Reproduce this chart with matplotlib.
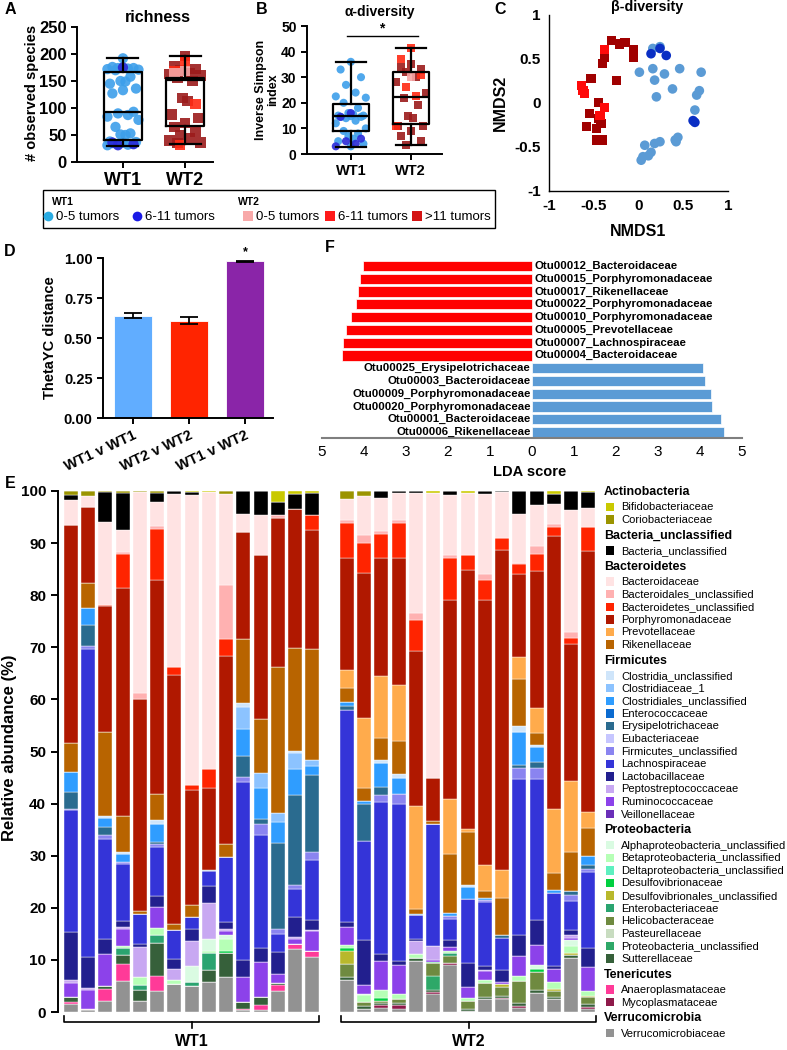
import numpy as np
import matplotlib
matplotlib.use("Agg")
import matplotlib.pyplot as plt
from matplotlib.patches import Rectangle

plt.rcParams['font.family'] = ['Liberation Sans', 'DejaVu Sans']
plt.rcParams['axes.linewidth'] = 1.4

# ---------------- data ----------------
groups = ['WT1', 'WT2']

# A: richness (# observed species)
rich_wt1_05 = [192, 176, 174, 174, 173, 172, 171, 170, 158, 150, 149, 145, 136, 133, 127, 93, 90, 87, 84, 78,
               65, 53, 51, 50, 38, 37, 36, 35, 34, 33, 32, 31]
rich_wt1_611 = [175, 36, 33, 31]
rich_wt2_05 = [168, 165]
rich_wt2_611 = [185, 168, 107, 32]
rich_wt2_gt11 = [196, 178, 172, 170, 165, 163, 160, 155, 150, 118, 113, 88, 82, 72, 65, 55, 50, 45, 40, 36, 35]
rich_med = [92, 152]
rich_q1 = [40, 66]
rich_q3 = [166, 155]
rich_min = [30, 33]
rich_max = [193, 196]

# B: inverse Simpson
simp_wt1_05 = [36, 33, 30, 27, 24, 22.5, 22, 20, 18, 16, 15.5, 15, 15, 14.8, 14.5, 14.5, 14, 13, 12, 10, 9, 8, 7,
               6, 5, 4, 3]
simp_wt1_611 = [16, 14.5, 6, 5, 4, 3]
simp_wt2_05 = [30]
simp_wt2_611 = [41.5, 37, 31, 26, 22.5, 11]
simp_wt2_gt11 = [35, 34, 33, 32, 30, 28, 24, 22, 19, 15, 14, 11, 11, 9, 7, 5, 3.5]
simp_med = [14.9, 22.4]
simp_q1 = [8.8, 11.8]
simp_q3 = [19.6, 31.9]
simp_min = [2.7, 3.6]
simp_max = [36, 41.5]

# C: NMDS
nmds_wt2_gt11_x = [-0.30, -0.21, -0.15, -0.06, -0.06, -0.38, -0.38, -0.40, -0.53, -0.25, -0.45, -0.55, -0.45,
                   -0.58, -0.47, -0.42, -0.47, -0.40]
nmds_wt2_gt11_y = [0.71, 0.67, 0.69, 0.61, 0.52, 0.60, 0.52, 0.45, 0.28, 0.26, 0.01, -0.12, -0.18, -0.27, -0.29,
                   -0.23, -0.42, -0.42]
nmds_wt2_611_x = [-0.38, -0.64, -0.62, -0.60, -0.38, -0.43]
nmds_wt2_611_y = [0.61, 0.20, 0.14, 0.11, -0.05, -0.14]
nmds_wt1_05_x = [0.16, 0.24, 0.01, 0.16, 0.18, 0.29, 0.46, 0.70, 0.38, 0.20, 0.68, 0.65, 0.63, 0.44, 0.41, 0.42,
                 0.24, 0.18, 0.07, 0.14, 0.11, 0.05, 0.03]
nmds_wt1_05_y = [0.62, 0.64, 0.35, 0.39, 0.26, 0.33, 0.39, 0.35, 0.16, 0.07, 0.14, 0.09, -0.08, -0.39, -0.42, -0.44,
                 -0.44, -0.46, -0.48, -0.56, -0.60, -0.61, -0.65]
nmds_wt1_611_x = [0.14, 0.24, 0.31, 0.61, 0.63]
nmds_wt1_611_y = [0.56, 0.62, 0.54, -0.20, -0.22]

# D: ThetaYC distance
theta_labels = ['WT1 v WT1', 'WT2 v WT2', 'WT1 v WT2']
theta_mean = [0.64, 0.608, 0.979]
theta_err = [0.018, 0.021, 0.004]

# F: LDA
lda_wt2_otus = ['Otu00012_Bacteroidaceae', 'Otu00015_Porphyromonadaceae', 'Otu00017_Rikenellaceae',
                'Otu00022_Porphyromonadaceae', 'Otu00010_Porphyromonadaceae', 'Otu00005_Prevotellaceae',
                'Otu00007_Lachnospiraceae', 'Otu00004_Bacteroidaceae']
lda_wt2 = [4.02, 4.09, 4.14, 4.20, 4.32, 4.44, 4.49, 4.52]
lda_wt1_otus = ['Otu00025_Erysipelotrichaceae', 'Otu00003_Bacteroidaceae', 'Otu00009_Porphyromonadaceae',
                'Otu00020_Porphyromonadaceae', 'Otu00001_Bacteroidaceae', 'Otu00006_Rikenellaceae']
lda_wt1 = [4.07, 4.11, 4.27, 4.29, 4.50, 4.58]
lda_ticks = [-5, -4, -3, -2, -1, 0, 1, 2, 3, 4, 5]
lda_ticklabels = ['5', '4', '3', '2', '1', '0', '1', '2', '3', '4', '5']

# E: relative abundance per sample (15 WT1 then 15 WT2)
bifidobacteriaceae = [0, 0, 0, 0, 0, 0, 0, 0.2, 0.2, 0, 0, 0, 2.2, 0.6, 0.4,
                      0, 0, 0, 0, 0, 0.3, 0, 0.3, 0, 0, 0, 0, 0.6, 0, 0.2]
coriobacteriaceae = [0.8, 1.0, 0.2, 0.3, 0.2, 0.3, 0, 0, 0, 0.6, 0, 0, 0, 0, 0,
                     1.5, 1.0, 0, 0, 0, 0, 0, 0, 0, 0, 0, 0, 0, 0, 0]
bacteria_unclassified = [1.0, 0, 5.8, 7.2, 0, 1.9, 0.6, 0.5, 0, 0, 4.5, 4.7, 2.5, 2.9, 4.3,
                         0, 0, 1.4, 0.4, 0.3, 0, 0.8, 0, 0.5, 0.2, 4.4, 2.6, 1.8, 3.6, 3.0]
bacteroidaceae = [4.8, 2.1, 15.8, 4.2, 38.6, 4.5, 33.1, 55.8, 53.2, 17.4, 3.4, 7.5, 0, 0, 0,
                  4.1, 7.5, 6.2, 5.2, 23.2, 54.7, 11.4, 12.0, 15.4, 8.8, 9.4, 8.0, 4.0, 23.5, 3.8]
bacteroidales_unc = [0, 0, 0, 0.3, 1.1, 0.5, 0, 0, 0, 10.4, 0, 0, 0.5, 0, 0,
                     0.5, 1.5, 0.6, 0.5, 1.2, 0, 0.7, 0, 1.2, 0, 0.3, 1.4, 0.5, 1.2, 0]
bacteroidetes_unc = [0, 0, 0.2, 6.7, 0, 9.8, 1.7, 0.9, 3.6, 3.2, 0, 0, 0, 0, 2.8,
                     6.7, 5.7, 4.7, 6.7, 6.1, 0, 8.0, 2.8, 3.9, 2.4, 1.8, 3.4, 1.7, 1.1, 4.5]
porphyromonadaceae = [41.8, 14.6, 24.3, 43.6, 40.8, 41.2, 47.8, 22.0, 15.7, 36.1, 20.6, 31.6, 28.5, 26.6, 22.8,
                      21.5, 27.9, 22.6, 24.4, 29.7, 8.3, 38.3, 49.7, 50.7, 61.3, 16.0, 26.3, 52.4, 26.3, 50.1]
prevotellaceae = [0, 0, 0, 0, 0, 0, 0, 0, 0, 0, 0, 0, 0, 0, 0,
                  3.6, 13.5, 12.0, 10.7, 19.7, 0, 10.4, 0.7, 5.1, 5.4, 4.1, 4.7, 12.4, 13.6, 3.0]
rikenellaceae = [5.5, 4.7, 16.1, 7.0, 0.4, 5.0, 1.1, 2.4, 0, 2.6, 12.2, 10.3, 28.2, 19.9, 21.3,
                 2.6, 2.4, 4.2, 6.5, 0.9, 0.6, 11.4, 10.2, 1.4, 7.2, 9.2, 2.4, 3.1, 7.5, 5.5]
clostridia_unc = [0, 0, 0.4, 0.3, 0, 0.7, 0, 0, 0, 0, 0.8, 0, 0, 0.2, 0,
                  0, 0, 0.6, 0.6, 0, 0, 0, 0.3, 0, 0, 1.1, 0.3, 0, 0, 0]
clostridiaceae_1 = [0, 0, 0, 0, 0, 0, 0, 0, 0, 0, 4.1, 3.0, 1.6, 3.1, 1.2,
                    0, 0, 0, 0, 0, 0, 0, 0, 0, 0, 0, 0, 0, 0, 0]
clostridiales_unc = [3.9, 3.3, 1.7, 1.6, 0, 3.4, 0, 0, 0, 0, 5.3, 5.9, 4.1, 5.1, 1.8,
                     0.8, 0.5, 4.5, 3.1, 0.3, 0, 0.6, 2.4, 0.3, 0, 6.2, 2.9, 0.7, 0, 1.7]
erysipelotrichaceae = [3.2, 4.1, 1.6, 0, 0, 0.4, 0, 0, 0.2, 0, 3.9, 1.0, 16.4, 17.3, 14.7,
                       0.8, 7.2, 1.6, 0, 0, 0, 0, 0, 0, 0.5, 0.7, 1.2, 0, 0.8, 0.7]
firmicutes_unc = [0.3, 0.5, 0.6, 0.3, 0, 0.6, 0, 0, 0, 0, 1.1, 2.1, 1.0, 0.6, 1.5,
                  0, 0, 1.3, 1.9, 0, 0, 0.5, 0, 0.4, 0, 2.0, 2.0, 0, 1.0, 0.6]
lachnospiraceae = [23.3, 59.1, 19.2, 11.1, 5.8, 9.5, 5.5, 2.2, 3.0, 12.5, 34.1, 21.7, 3.5, 5.5, 11.5,
                   40.6, 18.9, 29.2, 30.2, 4.5, 23.5, 4.0, 12.2, 12.3, 6.2, 30.0, 27.2, 14.0, 5.6, 14.6]
lactobacillaceae = [9.2, 6.0, 2.9, 1.1, 0.6, 2.0, 1.9, 2.4, 3.2, 1.3, 3.2, 2.6, 4.3, 3.8, 1.9,
                    0.9, 8.7, 1.4, 0.8, 0.5, 0, 1.4, 4.6, 0.7, 2.2, 4.1, 4.8, 0.5, 1.0, 3.7]
peptostreptococcaceae = [0.6, 0.4, 0, 0.3, 5.7, 0, 2.1, 4.7, 6.8, 0.4, 0, 0, 0, 0.3, 0.3,
                         0, 0, 0, 0, 2.4, 2.6, 0, 0, 0.2, 0, 0, 0, 0, 0.6, 0]
ruminococcaceae = [2.8, 3.6, 6.3, 3.4, 0, 4.0, 0, 0, 0, 0.8, 4.9, 6.7, 1.6, 1.0, 3.7,
                   3.6, 1.7, 5.5, 5.5, 0, 0.4, 0.7, 2.2, 1.7, 0.5, 3.7, 3.7, 2.5, 0.4, 4.6]
alphaproteo_unc = [0, 0, 0, 0, 0, 0, 0, 3.1, 2.3, 0.6, 0, 0, 0, 0, 0,
                   0, 0.3, 0, 0, 0, 0, 0, 0, 0, 0, 0, 0.8, 0, 1.2, 0]
betaproteo_unc = [0, 0, 0, 0.4, 1.6, 1.5, 0.8, 0, 0.5, 2.3, 0, 0, 0, 0, 0,
                  0.5, 1.3, 1.5, 1.1, 0.8, 0, 0.5, 0.4, 0.6, 0, 1.1, 0, 1.3, 1.3, 1.0]
desulfovibrionaceae = [0, 0, 0, 0, 0, 0, 0, 0, 0, 0.5, 0, 0, 0, 0, 0,
                       0.5, 0, 0.5, 0, 0, 0.2, 0, 0, 0, 0, 0, 0.6, 0, 0, 0]
desulfovibrionales_unc = [0, 0, 0, 0, 0, 0, 0, 0, 0, 0, 0, 0, 0, 0, 0,
                          2.5, 0, 0, 0, 0, 0, 0, 0, 0, 0.5, 0, 0, 0.5, 0.4, 0.2]
enterobacteriaceae = [0, 0, 0, 1.3, 1.0, 1.5, 0, 0.9, 3.3, 0, 0, 0, 0, 0, 0,
                      0, 0, 0, 0, 0, 0, 0.6, 0, 0, 0, 0, 0, 0, 0, 0]
helicobacteraceae = [0, 0, 0, 0, 0, 0, 0, 0, 0, 0, 0, 0, 0, 0, 0,
                     2.5, 0.8, 0.5, 0.6, 0, 2.4, 1.3, 1.6, 2.8, 1.8, 4.1, 3.5, 1.1, 0, 1.3]
proteobacteria_unc = [0, 0, 0, 0, 0, 0, 0, 0, 0, 0, 0, 0, 0, 0, 0,
                      0, 0, 0, 0, 0, 2.7, 0, 0, 0, 0, 0, 0, 0, 0, 0]
sutterellaceae = [0.8, 0, 0.4, 1.6, 2.0, 6.2, 0, 0, 2.2, 4.6, 1.3, 1.6, 0.5, 0, 0,
                  0.6, 0.5, 0.4, 0.5, 0.6, 0.5, 0, 0.4, 0.4, 0.3, 0.6, 0.6, 0.5, 0.5, 0.6]
anaeroplasmataceae = [0.4, 0.3, 2.4, 3.3, 0, 3.0, 0, 0, 0, 0, 0.3, 0.9, 1.1, 1.1, 1.2,
                      0, 0, 0, 0, 0, 0, 0, 0, 0, 0, 0, 0, 0, 0, 0]
mycoplasmataceae = [0, 0, 0, 0, 0, 0, 0, 0, 0, 0, 0, 0, 0, 0, 0,
                    0, 0, 0.5, 0.7, 0, 0.3, 0.3, 0, 0, 0.3, 0.4, 0, 0, 0, 0.3]
verrucomicrobiaceae = [1.6, 0.3, 2.1, 6.0, 2.2, 4.0, 5.4, 4.9, 5.8, 6.7, 0.3, 0.4, 4.0, 12.0, 10.6,
                       6.2, 0.6, 0.8, 0.6, 9.8, 3.5, 9.1, 0.2, 2.4, 2.4, 0.8, 3.6, 2.4, 10.4, 0.6]

# legend (phylum, [(family, colour, values or None)])
taxa_groups = [
    ('Actinobacteria', [('Bifidobacteriaceae', '#c9c900', bifidobacteriaceae),
                        ('Coriobacteriaceae', '#9b9400', coriobacteriaceae)]),
    ('Bacteria_unclassified', [('Bacteria_unclassified', '#000000', bacteria_unclassified)]),
    ('Bacteroidetes', [('Bacteroidaceae', '#ffe3e3', bacteroidaceae),
                       ('Bacteroidales_unclassified', '#ffb1b1', bacteroidales_unc),
                       ('Bacteroidetes_unclassified', '#ff2400', bacteroidetes_unc),
                       ('Porphyromonadaceae', '#b01800', porphyromonadaceae),
                       ('Prevotellaceae', '#ffab4c', prevotellaceae),
                       ('Rikenellaceae', '#b86400', rikenellaceae)]),
    ('Firmicutes', [('Clostridia_unclassified', '#cfe5fa', clostridia_unc),
                    ('Clostridiaceae_1', '#8cc3ff', clostridiaceae_1),
                    ('Clostridiales_unclassified', '#2f9dff', clostridiales_unc),
                    ('Enterococcaceae', '#0b6bd0', None),
                    ('Erysipelotrichaceae', '#2a6b8f', erysipelotrichaceae),
                    ('Eubacteriaceae', '#c6c6ff', None),
                    ('Firmicutes_unclassified', '#8a84f0', firmicutes_unc),
                    ('Lachnospiraceae', '#3434d8', lachnospiraceae),
                    ('Lactobacillaceae', '#221f8e', lactobacillaceae),
                    ('Peptostreptococcaceae', '#c8a8f2', peptostreptococcaceae),
                    ('Ruminococcaceae', '#8c42ea', ruminococcaceae),
                    ('Veillonellaceae', '#6a2eb8', None)]),
    ('Proteobacteria', [('Alphaproteobacteria_unclassified', '#dafbe2', alphaproteo_unc),
                        ('Betaproteobacteria_unclassified', '#b6ffb6', betaproteo_unc),
                        ('Deltaproteobacteria_unclassified', '#5ef0c0', None),
                        ('Desulfovibrionaceae', '#00d040', desulfovibrionaceae),
                        ('Desulfovibrionales_unclassified', '#b8b82c', desulfovibrionales_unc),
                        ('Enterobacteriaceae', '#2aa470', enterobacteriaceae),
                        ('Helicobacteraceae', '#6f8a40', helicobacteraceae),
                        ('Pasteurellaceae', '#c8dcc0', None),
                        ('Proteobacteria_unclassified', '#2ea868', proteobacteria_unc),
                        ('Sutterellaceae', '#36603a', sutterellaceae)]),
    ('Tenericutes', [('Anaeroplasmataceae', '#ff3a98', anaeroplasmataceae),
                     ('Mycoplasmataceae', '#8e1a4a', mycoplasmataceae)]),
    ('Verrucomicrobia', [('Verrucomicrobiaceae', '#929292', verrucomicrobiaceae)]),
]

# colours
C_WT1_LIGHT = '#3d9fea'
C_WT1_DARK = '#2a2ad8'
C_WT2_PINK = '#f6a6a6'
C_WT2_RED = '#ff2a14'
C_WT2_DARK = '#9b1b1b'

# ---------------- figure ----------------
W, H = 787, 1050
fig = plt.figure(figsize=(W / 100, H / 100), dpi=100)


def axpx(l, t, r, b):
    return fig.add_axes([l / W, 1 - b / H, (r - l) / W, (b - t) / H])


JIT = [0, -0.17, 0.17, -0.08, 0.08, -0.25, 0.25, -0.12, 0.12, -0.04, 0.04, -0.21, 0.21]


def spread(vals, center):
    order = np.argsort(vals)[::-1]
    x = np.empty(len(vals))
    for k, idx in enumerate(order):
        x[idx] = center + JIT[k % len(JIT)]
    return x


def dot_box(ax, series, med, q1, q3, lo, hi, msize):
    stats = [dict(med=med[i], q1=q1[i], q3=q3[i], whislo=lo[i], whishi=hi[i], label=groups[i]) for i in range(2)]
    lp = dict(color='black', lw=1.6)
    for vals, pos, color, marker in series:
        ax.scatter(spread(vals, pos), vals, s=msize, c=color, marker=marker, edgecolors='none',
                   zorder=2, alpha=0.9)
    ax.bxp(stats, positions=[0, 1], widths=0.6, capwidths=0.5, showfliers=False,
           boxprops=lp, medianprops=lp, whiskerprops=lp, capprops=lp, manage_ticks=False, zorder=3)
    for s in ['top', 'right']:
        ax.spines[s].set_visible(False)
    ax.set_xticks([0, 1])
    ax.tick_params(axis='both', direction='out', width=1.4, length=4)


# ---- A ----
axA = axpx(77, 27, 213, 162)
dot_box(axA, [(rich_wt1_05, 0, C_WT1_LIGHT, 'o'), (rich_wt1_611, 0, C_WT1_DARK, 'o'),
              (rich_wt2_gt11, 1, C_WT2_DARK, 's'), (rich_wt2_611, 1, C_WT2_RED, 's'),
              (rich_wt2_05, 1, C_WT2_PINK, 's')],
        rich_med, rich_q1, rich_q3, rich_min, rich_max, 55)
axA.set_ylim(0, 250)
axA.set_xlim(-0.74, 1.45)
axA.set_yticks(range(0, 251, 50))
axA.set_yticklabels([str(v) for v in range(0, 251, 50)], fontsize=12, fontweight='bold')
axA.set_xticklabels(groups, fontsize=13, fontweight='bold')

# ---- B ----
axB = axpx(307, 26, 442, 154)
dot_box(axB, [(simp_wt1_05, 0, C_WT1_LIGHT, 'o'), (simp_wt1_611, 0, C_WT1_DARK, 'o'),
              (simp_wt2_gt11, 1, C_WT2_DARK, 's'), (simp_wt2_611, 1, C_WT2_RED, 's'),
              (simp_wt2_05, 1, C_WT2_PINK, 's')],
        simp_med, simp_q1, simp_q3, simp_min, simp_max, 34)
axB.set_ylim(0, 50)
axB.set_xlim(-0.73, 1.52)
axB.set_yticks(range(0, 51, 10))
axB.set_yticklabels([str(v) for v in range(0, 51, 10)], fontsize=10, fontweight='bold')
axB.set_xticklabels(groups, fontsize=10.5, fontweight='bold')
axB.plot([-0.07, 1.12], [46, 46], color='black', lw=1, clip_on=False)
axB.text(0.52, 46.3, '*', ha='center', va='bottom', fontsize=10, fontweight='bold')

# ---- C ----
axC = axpx(549, 15, 728, 191)
axC.scatter(nmds_wt1_05_x, nmds_wt1_05_y, s=48, c='#5b9bd5', marker='o', edgecolors='none')
axC.scatter(nmds_wt1_611_x, nmds_wt1_611_y, s=48, c='#0a2fc4', marker='o', edgecolors='none')
axC.scatter(nmds_wt2_gt11_x, nmds_wt2_gt11_y, s=44, c='#a00000', marker='s', edgecolors='none')
axC.scatter(nmds_wt2_611_x, nmds_wt2_611_y, s=44, c='#ff0a0a', marker='s', edgecolors='none')
axC.set_xlim(-1, 1)
axC.set_ylim(-1, 1)
cticks = [-1, -0.5, 0, 0.5, 1]
clabels = ['-1', '-0.5', '0', '0.5', '1']
axC.set_xticks(cticks)
axC.set_yticks(cticks)
axC.set_xticklabels(clabels, fontsize=11, fontweight='bold')
axC.set_yticklabels(clabels, fontsize=11, fontweight='bold')
axC.tick_params(length=0, pad=6)
axC.spines['left'].set_linewidth(1.0)
axC.spines['bottom'].set_linewidth(1.0)
for s in ['top', 'right']:
    axC.spines[s].set_visible(False)

# ---- D ----
axD = axpx(103, 258, 273, 418)
d_colors = ['#61adff', '#ff2400', '#8a25a8']
axD.bar(range(3), theta_mean, width=0.68, color=d_colors, edgecolor='white', linewidth=0.6)
axD.errorbar(range(3), theta_mean, yerr=theta_err, fmt='none', ecolor='black', elinewidth=1.3,
             capsize=6.5, capthick=1.3)
axD.text(2, 1.0, '*', ha='center', va='bottom', fontsize=9, fontweight='bold')
axD.set_ylim(0, 1.0)
axD.set_xlim(-0.54, 2.5)
axD.set_yticks([0, 0.25, 0.5, 0.75, 1.0])
axD.set_yticklabels(['0.00', '0.25', '0.50', '0.75', '1.00'], fontsize=10.5, fontweight='bold')
axD.set_xticks(range(3))
axD.set_xticklabels(theta_labels, fontsize=10.5, fontweight='bold', rotation=25, ha='right',
                    rotation_mode='anchor')
axD.tick_params(direction='out', width=1.4, length=4)
for s in ['top', 'right']:
    axD.spines[s].set_visible(False)

# ---- F ----
axF = axpx(322, 258, 742, 438)
n_rows = len(lda_wt2) + len(lda_wt1)
ypos_red = [n_rows - 1 - i for i in range(len(lda_wt2))]
ypos_blue = [n_rows - 1 - len(lda_wt2) - i for i in range(len(lda_wt1))]
axF.barh(ypos_red, [-v for v in lda_wt2], height=0.8, color='#ff0000', edgecolor='white', linewidth=0.5)
axF.barh(ypos_blue, lda_wt1, height=0.8, color='#5b9bd5', edgecolor='white', linewidth=0.5)
for y, name in zip(ypos_red, lda_wt2_otus):
    axF.text(0.06, y, name, ha='left', va='center', fontsize=8.2, fontweight='bold')
for y, name in zip(ypos_blue, lda_wt1_otus):
    axF.text(-0.03, y, name, ha='right', va='center', fontsize=8.2, fontweight='bold')
axF.set_xlim(-5, 5)
axF.set_ylim(-0.47, n_rows - 0.37)
axF.set_xticks(lda_ticks)
axF.set_xticklabels(lda_ticklabels, fontsize=11)
axF.set_yticks([])
axF.tick_params(axis='x', length=0, pad=5)
for s in ['top', 'right', 'left']:
    axF.spines[s].set_visible(False)
axF.spines['bottom'].set_color('#7f7f7f')
axF.spines['bottom'].set_linewidth(1.5)

# ---- E ----
axE = axpx(58, 491, 600, 1012)
xpos = np.concatenate([np.arange(15), np.arange(16, 31)])
bottom = np.zeros(len(xpos))
for phylum, fams in reversed(taxa_groups):
    for name, color, vals in reversed(fams):
        if vals is None:
            continue
        v = np.array(vals, dtype=float)
        axE.bar(xpos, v, bottom=bottom, width=0.81, color=color, edgecolor='white', linewidth=0.3)
        bottom += v
axE.set_ylim(0, 100)
axE.set_xlim(-0.75, 30.67)
axE.set_yticks(range(0, 101, 10))
axE.set_yticklabels([str(v) for v in range(0, 101, 10)], fontsize=11, fontweight='bold')
axE.set_xticks([])
axE.tick_params(axis='y', direction='out', width=1.4, length=5)
for s in ['top', 'right', 'bottom']:
    axE.spines[s].set_visible(False)

# ---------------- overlay (pixel coords) ----------------
ov = fig.add_axes([0, 0, 1, 1])
ov.set_xlim(0, W)
ov.set_ylim(H, 0)
ov.axis('off')

for lab, x, y in [('A', 10, 9), ('B', 262, 9), ('C', 500, 9), ('D', 10, 252), ('E', 10, 483), ('F', 330, 248)]:
    ov.text(x, y, lab, ha='center', va='center', fontsize=11.5, fontweight='bold')

ov.text(158, 17, 'richness', ha='center', va='center', fontsize=11.5, fontweight='bold')
ov.text(380, 12, 'α-diversity', ha='center', va='center', fontsize=10, fontweight='bold')
ov.text(647, 7, 'β-diversity', ha='center', va='center', fontsize=10.3, fontweight='bold')

ov.text(32, 93, '# observed species', ha='center', va='center', rotation=90, fontsize=10.5, fontweight='bold')
ov.text(267, 90, 'Inverse Simpson\nindex', ha='center', va='center', rotation=90, fontsize=9,
        fontweight='bold', linespacing=1.05)
ov.text(500, 103, 'NMDS2', ha='center', va='center', rotation=90, fontsize=11.5, fontweight='bold')
ov.text(638, 232, 'NMDS1', ha='center', va='center', fontsize=11.5, fontweight='bold')
ov.text(50, 338, 'ThetaYC distance', ha='center', va='center', rotation=90, fontsize=10.5, fontweight='bold')
ov.text(530, 472, 'LDA score', ha='center', va='center', fontsize=10.5, fontweight='bold')
ov.text(10, 748, 'Relative abundance (%)', ha='center', va='center', rotation=90, fontsize=12,
        fontweight='bold')

# tumour legend box
ov.add_patch(Rectangle((43, 190), 452, 38, fill=False, edgecolor='black', lw=1.0))
ov.text(52, 202, 'WT1', ha='left', va='center', fontsize=7.5, fontweight='bold')
ov.text(238, 202, 'WT2', ha='left', va='center', fontsize=7.5, fontweight='bold')
tumour_items = [(48, 'o', '#29abe2', '0-5 tumors'), (137, 'o', '#1a1ae6', '6-11 tumors'),
                (248, 's', '#f8a9a9', '0-5 tumors'), (330, 's', '#ff1a1a', '6-11 tumors'),
                (417, 's', '#d41414', '>11 tumors')]
for x, m, c, t in tumour_items:
    ov.plot([x], [216], marker=m, color=c, markersize=7, markeredgewidth=0, linestyle='none')
    ov.text(x + 8, 216.5, t, ha='left', va='center', fontsize=9.5)

# group brackets under E
for x0, x1, lab in [(64, 319, 'WT1'), (341, 596, 'WT2')]:
    xm = (x0 + x1) / 2
    ov.plot([x0, x0, x1, x1], [1016, 1022, 1022, 1016], color='black', lw=1.2)
    ov.plot([xm, xm], [1022, 1028], color='black', lw=1.2)
    ov.text(xm, 1041, lab, ha='center', va='center', fontsize=11.5, fontweight='bold')

# taxa legend
y = 492
for phylum, fams in taxa_groups:
    ov.text(604, y, phylum, ha='left', va='center', fontsize=8.9, fontweight='bold')
    y += 15
    for name, color, vals in fams:
        ov.add_patch(Rectangle((606, y - 4.2), 8.4, 8.4, facecolor=color, edgecolor='none'))
        ov.text(621, y + 0.3, name, ha='left', va='center', fontsize=8)
        y += 12.6
    y += 3.4

fig.savefig('out.png', dpi=100)
